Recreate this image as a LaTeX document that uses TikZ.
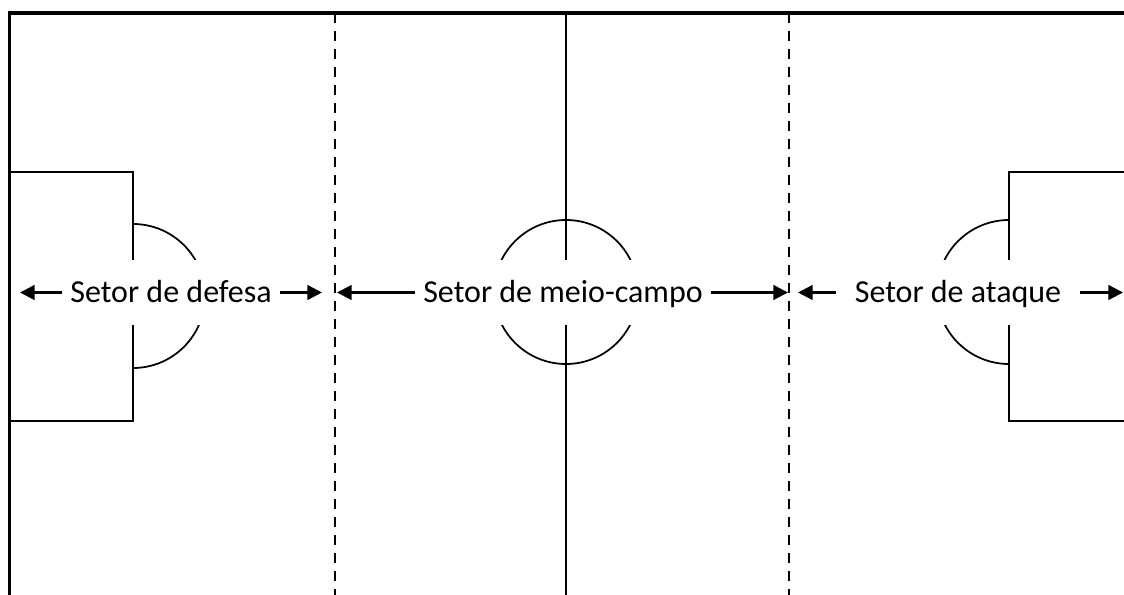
\documentclass[tikz,border=0pt]{standalone}
\usepackage{fontspec}
\setmainfont{Carlito}
\usetikzlibrary{arrows.meta}

\begin{document}
\begin{tikzpicture}[x=0.75pt, y=-0.75pt,
    fieldline/.style={line width=1.3pt},
    fieldborder/.style={line width=2.5pt},
    sectorline/.style={line width=2pt, dash pattern=on 7.5pt off 6pt},
    sectorlabel/.style={fill=white, inner xsep=6pt, inner ysep=0pt, text height=31.5pt, text depth=17.25pt, anchor=base, font=\fontsize{24}{28}\selectfont},
    arr/.style={line width=1.8pt, -{Triangle[length=11pt, width=11pt]}}]
    \useasboundingbox (0, 0) rectangle (1124, 595);
    \draw[fieldborder] (9.7, 595) -- (9.7, 13) -- (1124, 13);
    \draw[fieldline] (566, 13) -- (566, 595);
    \draw[fieldline] (566, 292) circle[radius=72];
    \draw[fieldline] (9.7, 172) -- (133, 172) -- (133, 421) -- (9.7, 421);
    \draw[fieldline] (133, 224) arc[start angle=-90, end angle=90, radius=72];
    \draw[fieldline] (1124, 172) -- (1009, 172) -- (1009, 421) -- (1124, 421);
    \draw[fieldline] (1009, 220) arc[start angle=270, end angle=90, radius=72];
    \node[sectorlabel] (defesa) at (171, 302) {Setor de defesa};
    \node[sectorlabel] (meio) at (563, 302) {Setor de meio-campo};
    \node[sectorlabel, inner xsep=14pt] (ataque) at (958, 302) {Setor de ataque};
    \draw[sectorline] (335, 13) -- (335, 595);
    \draw[sectorline] (789, 13) -- (789, 595);
    \coordinate (d1) at (20, 292);
    \coordinate (d2) at (322, 292);
    \coordinate (m1) at (337, 292);
    \coordinate (m2) at (788, 292);
    \coordinate (a1) at (798, 292);
    \coordinate (a2) at (1123, 292);
    \draw[arr] (defesa.west) -- (defesa.west -| d1);
    \draw[arr] (defesa.east) -- (defesa.east -| d2);
    \draw[arr] (meio.west) -- (meio.west -| m1);
    \draw[arr] (meio.east) -- (meio.east -| m2);
    \draw[arr] (ataque.west) -- (ataque.west -| a1);
    \draw[arr] (ataque.east) -- (ataque.east -| a2);
\end{tikzpicture}
\end{document}
